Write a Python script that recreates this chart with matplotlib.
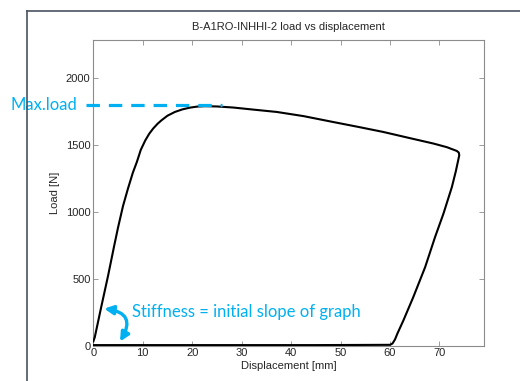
import matplotlib
matplotlib.use("Agg")
import matplotlib.pyplot as plt
from matplotlib.lines import Line2D
from matplotlib.patches import FancyArrowPatch

# [DATA] load-displacement record, loading -> softening -> unloading -> return
displacement = [
    0.0, 0.3, 1.5, 3.0, 4.2, 5.0, 6.0, 7.0, 8.0, 8.8, 9.6, 10.5, 11.3, 12.1,
    13.0, 13.8, 15.0, 16.5, 18.0, 19.5, 21.0, 22.6, 25.0, 28.3, 32.5, 37.1,
    42.5, 48.5, 53.5, 58.6, 63.5, 68.8, 71.5, 73.5, 73.9, 74.0, 73.3, 72.5,
    70.8, 69.1, 67.1, 64.7, 62.7, 61.5, 61.0, 60.5, 60.0, 45.0, 30.0, 15.0, 0.0,
]
load = [
    30, 62, 270, 523, 740, 880, 1040, 1170, 1290, 1369, 1460, 1530, 1580, 1619,
    1655, 1681, 1715, 1743, 1762, 1775, 1783, 1786, 1784, 1776, 1760, 1743,
    1712, 1668, 1632, 1594, 1552, 1507, 1480, 1452, 1440, 1420, 1300, 1182,
    984, 809, 585, 361, 187, 90, 45, 15, 5, 3, 3, 3, 3,
]
x_ticks = [0, 10, 20, 30, 40, 50, 60, 70]
y_ticks = [0, 500, 1000, 1500, 2000]

title = "B-A1RO-INHHI-2 load vs displacement"
note_max = "Max.load"
note_stiff = "Stiffness = initial slope of graph"

# [STYLE]
CYAN = "#00B0F0"
AXIS_GREY = "#8c8c8c"
TEXT_DARK = "#262626"
plt.rcParams["font.family"] = ["Liberation Sans", "DejaVu Sans"]

fig = plt.figure(figsize=(5.20, 3.81), dpi=100)
fig.patch.set_facecolor("white")

# slide frame behind the plot
fig.add_artist(Line2D([27.3 / 520, 27.3 / 520], [0, 1 - 10.7 / 381],
                      color="#4a5260", lw=1.2, transform=fig.transFigure))
fig.add_artist(Line2D([27.3 / 520, 1], [1 - 10.7 / 381, 1 - 10.7 / 381],
                      color="#4a5260", lw=1.2, transform=fig.transFigure))

ax = fig.add_axes([93.3 / 520, 1 - 345.5 / 381, (484 - 93.3) / 520, (345.5 - 40) / 381])
ax.plot(displacement, load, color="black", lw=1.5, zorder=3)

ax.set_xlim(0, 79)
ax.set_ylim(0, 2280)
ax.set_xticks(x_ticks)
ax.set_yticks(y_ticks)
ax.tick_params(direction="in", length=3.5, width=0.6, color=AXIS_GREY,
               top=True, right=True, labelsize=8, labelcolor=TEXT_DARK, pad=2)
for s in ax.spines.values():
    s.set_color(AXIS_GREY)
    s.set_linewidth(0.8)

ax.set_title(title, fontsize=8, color=TEXT_DARK, pad=7)
ax.set_xlabel("Displacement [mm]", fontsize=8, color=TEXT_DARK, labelpad=2)
ax.set_ylabel("Load [N]", fontsize=8, color=TEXT_DARK, labelpad=4)

# max load marker
peak = max(load)
ax.plot([-1.5, 26], [peak + 8, peak + 8], color=CYAN, lw=2.3,
        dashes=(4.2, 2.8), clip_on=False, zorder=4)
ax.text(-3.3, peak + 8, note_max, color=CYAN, fontsize=12, family="Lato",
        ha="right", va="center", clip_on=False)

# stiffness note with curved double arrow
ax.text(7.8, 253, note_stiff, color=CYAN, fontsize=12, family="Lato",
        ha="left", va="center")
arrow = FancyArrowPatch((2.2, 275), (5.4, 30), arrowstyle="<|-|>",
                        connectionstyle="arc3,rad=-0.75", mutation_scale=13,
                        color=CYAN, lw=2.4, zorder=5, clip_on=False,
                        shrinkA=0, shrinkB=0)
ax.add_patch(arrow)

fig.savefig("out.png", dpi=100)
